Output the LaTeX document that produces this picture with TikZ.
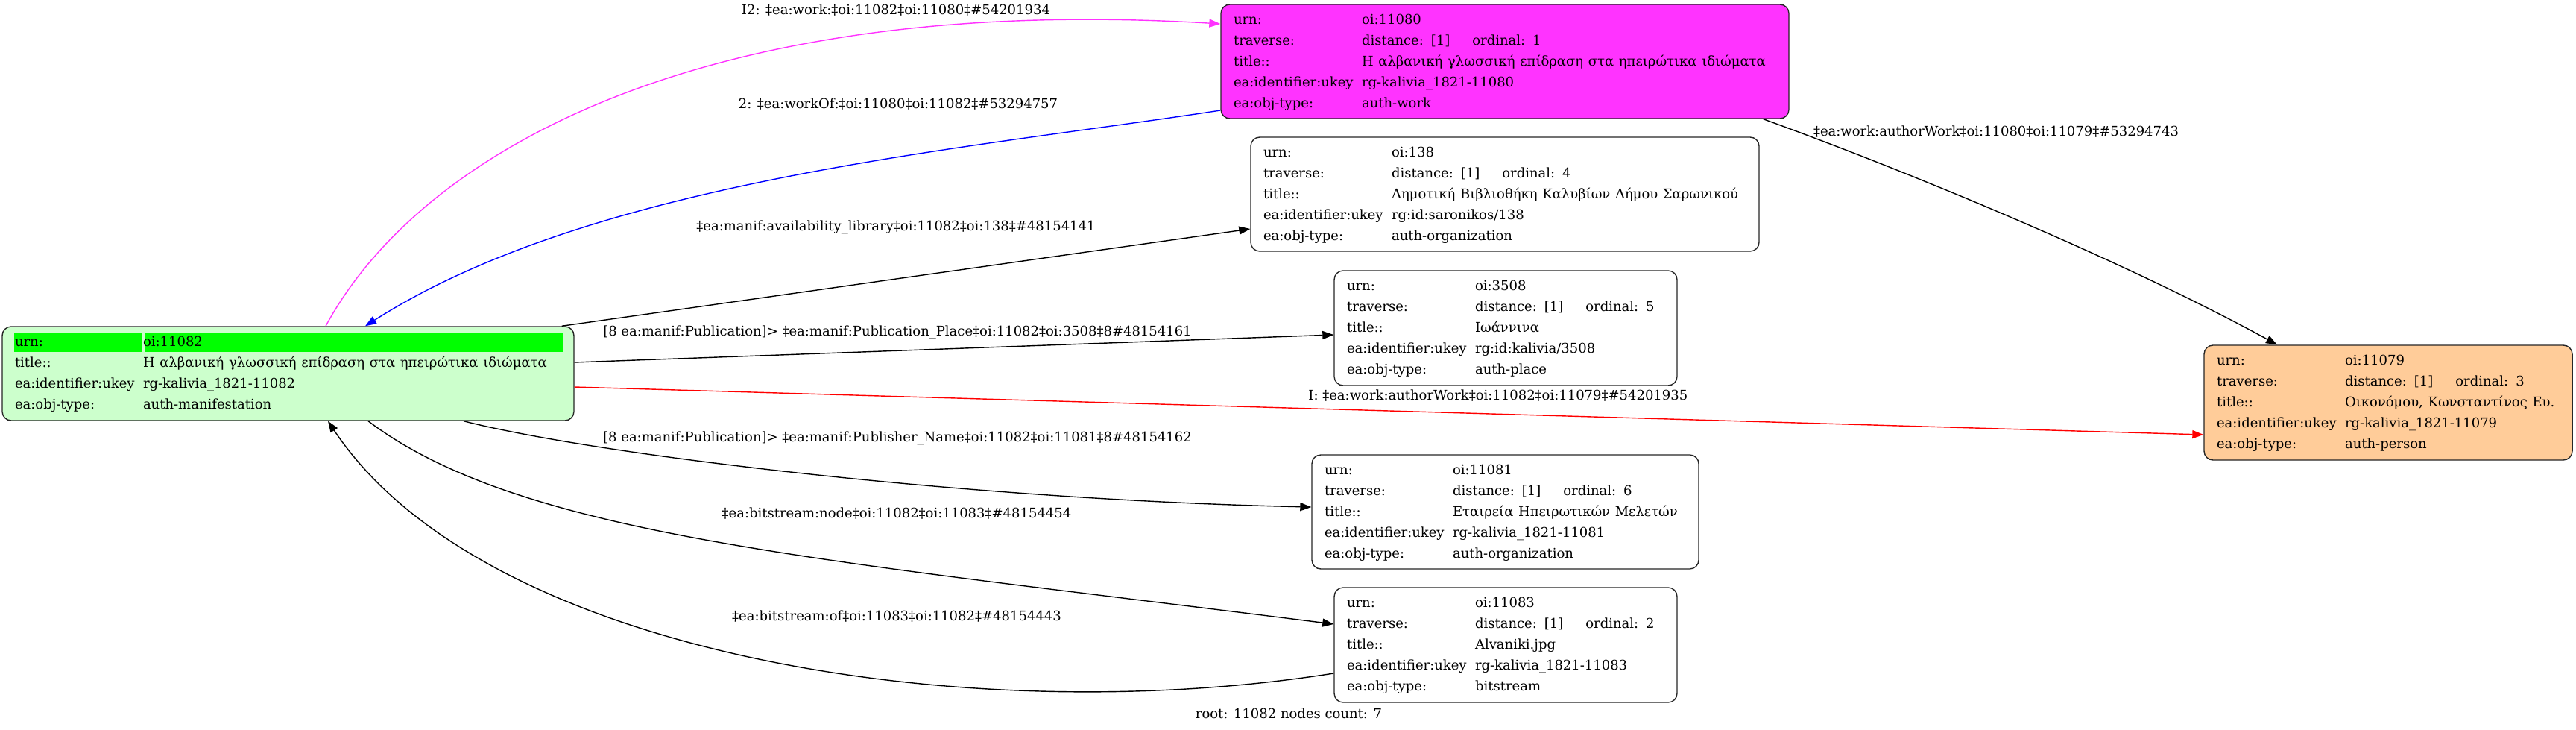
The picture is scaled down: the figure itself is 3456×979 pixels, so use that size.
\documentclass[tikz,border=0pt]{standalone}
\usepackage{fontspec}
\setmainfont{DejaVu Serif}
\usetikzlibrary{arrows.meta}

\definecolor{workmag}{HTML}{FF33FF}
\definecolor{rootpale}{HTML}{CCFFCC}
\definecolor{personpeach}{HTML}{FFCC99}
\definecolor{urngreen}{HTML}{00FF00}

\newcommand{\recrows}[1]{{\fontsize{9}{14}\selectfont\begin{tabular}{@{}p{86pt}@{}l@{}}#1\end{tabular}}}
\newcommand{\gapord}{\hspace{15pt}}

\tikzset{
    recbox/.style={draw=black!85, line width=0.7pt, rounded corners=6pt, inner xsep=8.5pt, inner ysep=0pt, align=left},
    link/.style={line width=0.7pt, -{Triangle[length=7.5pt,width=5.5pt]}},
    linklabel/.style={font=\fontsize{9}{11}\selectfont, inner sep=0pt}
}

\begin{document}
\begin{tikzpicture}[x=0.5pt, y=-0.5pt]
        \useasboundingbox (0,0) rectangle (3456,979);

        \node[recbox, fill=workmag, text width=364pt, minimum height=76.5pt] (work) at (2019,82.5)
            {\recrows{urn: & oi:11080\\ traverse: & distance: [1]\gapord ordinal: 1\\ title:: & Η αλβανική γλωσσική επίδραση στα ηπειρώτικα ιδιώματα\\ ea:identifier:ukey & rg-kalivia\_1821-11080\\ ea:obj-type: & auth-work}};
        \node[recbox, fill=white, text width=324pt, minimum height=76.5pt] (library) at (2019,260.5)
            {\recrows{urn: & oi:138\\ traverse: & distance: [1]\gapord ordinal: 4\\ title:: & Δημοτική Βιβλιοθήκη Καλυβίων Δήμου Σαρωνικού\\ ea:identifier:ukey & rg:id:saronikos/138\\ ea:obj-type: & auth-organization}};
        \node[recbox, fill=white, text width=213pt, minimum height=77pt] (place) at (2020,440)
            {\recrows{urn: & oi:3508\\ traverse: & distance: [1]\gapord ordinal: 5\\ title:: & Ιωάννινα\\ ea:identifier:ukey & rg:id:kalivia/3508\\ ea:obj-type: & auth-place}};
        \node[recbox, fill=white, text width=242.5pt, minimum height=76.5pt] (publisher) at (2019.5,686.5)
            {\recrows{urn: & oi:11081\\ traverse: & distance: [1]\gapord ordinal: 6\\ title:: & Εταιρεία Ηπειρωτικών Μελετών\\ ea:identifier:ukey & rg-kalivia\_1821-11081\\ ea:obj-type: & auth-organization}};
        \node[recbox, fill=white, text width=213pt, minimum height=77pt] (bitstream) at (2020,865)
            {\recrows{urn: & oi:11083\\ traverse: & distance: [1]\gapord ordinal: 2\\ title:: & Alvaniki.jpg\\ ea:identifier:ukey & rg-kalivia\_1821-11083\\ ea:obj-type: & bitstream}};
        \node[recbox, fill=personpeach, text width=230pt, minimum height=77pt] (person) at (3204,540)
            {\recrows{urn: & oi:11079\\ traverse: & distance: [1]\gapord ordinal: 3\\ title:: & Οικονόμου, Κωνσταντίνος Ευ.\\ ea:identifier:ukey & rg-kalivia\_1821-11079\\ ea:obj-type: & auth-person}};
        \node[recbox, fill=rootpale, text width=366.5pt, minimum height=63pt,
            path picture={
                \fill[urngreen, sharp corners] ([xshift=8pt,yshift=-4.5pt]path picture bounding box.north west) rectangle ([xshift=93.5pt,yshift=-17pt]path picture bounding box.north west);
                \fill[urngreen, sharp corners] ([xshift=95.5pt,yshift=-4.5pt]path picture bounding box.north west) rectangle ([xshift=-7pt,yshift=-17pt]path picture bounding box.north east);
            }] (root) at (386.5,501)
            {\recrows{urn: & oi:11082\\ title:: & Η αλβανική γλωσσική επίδραση στα ηπειρώτικα ιδιώματα\\ ea:identifier:ukey & rg-kalivia\_1821-11082\\ ea:obj-type: & auth-manifestation}};

        \draw[link, workmag] ([xshift=25.25pt]root.north) .. controls (560,210) and (930,-10) .. ([yshift=25.25pt]work.west);
        \draw[link, blue] ([yshift=-32.75pt]work.west) .. controls (1300,200) and (800,240) .. ([xshift=51.75pt]root.north);
        \draw[link] ([xshift=-8.5pt]root.north east) -- ([yshift=-23.25pt]library.west);
        \draw[link] ([yshift=7.5pt]root.east) -- ([yshift=-4.5pt]place.west);
        \draw[link, red] ([yshift=-9pt]root.east) -- ([yshift=-21.5pt]person.west);
        \draw[link] ([xshift=-17.5pt]work.south east) .. controls (2560,230) and (2850,350) .. ([xshift=-74.5pt]person.north);
        \draw[link] ([xshift=117.75pt]root.south) .. controls (800,610) and (1300,670) .. ([yshift=3.25pt]publisher.west);
        \draw[link] ([xshift=53.75pt]root.south) .. controls (700,720) and (1100,750) .. ([yshift=14pt]bitstream.west);
        \draw[link] ([yshift=-19pt]bitstream.west) .. controls (1300,980) and (650,880) .. ([xshift=26.75pt]root.south);

        \node[linklabel] (lbwork) at (1202,14) {I2: ‡ea:work:‡oi:11082‡oi:11080‡\#54201934};
        \node[linklabel] (lbworkof) at (1205,140) {2: ‡ea:workOf:‡oi:11080‡oi:11082‡\#53294757};
        \node[linklabel] (lblibrary) at (1202,305) {‡ea:manif:availability\_library‡oi:11082‡oi:138‡\#48154141};
        \node[linklabel] (lbplace) at (1204,446) {[8 ea:manif:Publication]> ‡ea:manif:Publication\_Place‡oi:11082‡oi:3508‡8\#48154161};
        \node[linklabel, anchor=west] (lbauthor) at (1755,531) {I: ‡ea:work:authorWork‡oi:11082‡oi:11079‡\#54201935};
        \node[linklabel] (lbauthorwork) at (2678,177) {‡ea:work:authorWork‡oi:11080‡oi:11079‡\#53294743};
        \node[linklabel] (lbpublisher) at (1204,588) {[8 ea:manif:Publication]> ‡ea:manif:Publisher\_Name‡oi:11082‡oi:11081‡8\#48154162};
        \node[linklabel] (lbnode) at (1203,689) {‡ea:bitstream:node‡oi:11082‡oi:11083‡\#48154454};
        \node[linklabel] (lbof) at (1203,827) {‡ea:bitstream:of‡oi:11083‡oi:11082‡\#48154443};
        \node[linklabel] (caption) at (1729,957) {root: 11082 nodes count: 7};
\end{tikzpicture}
\end{document}
